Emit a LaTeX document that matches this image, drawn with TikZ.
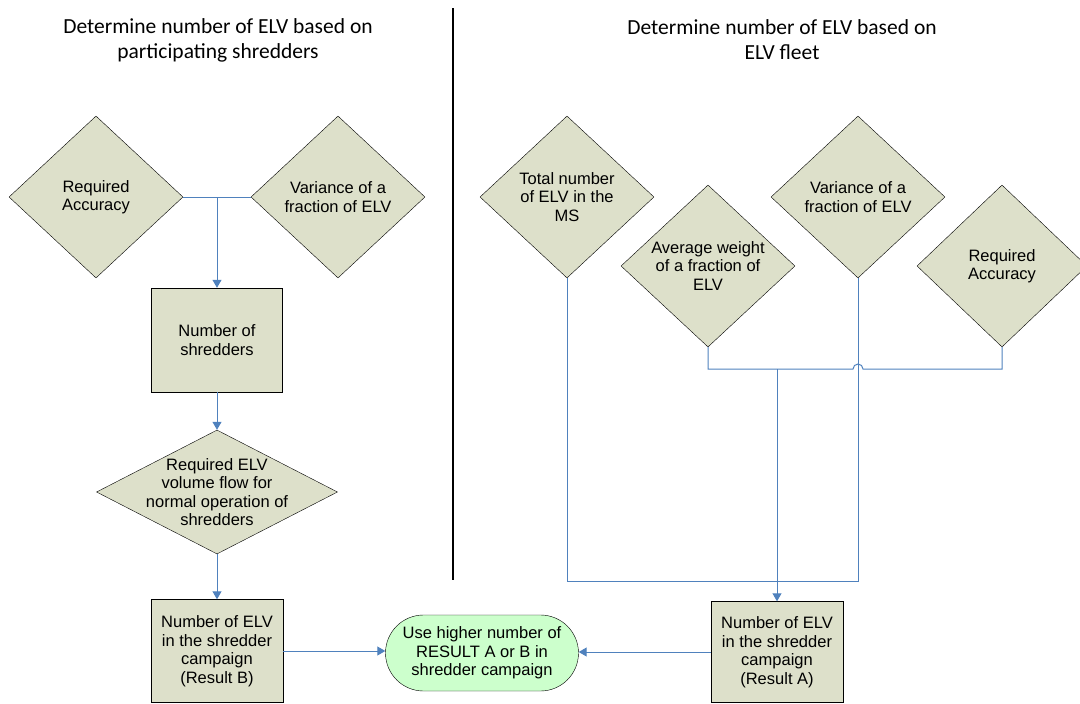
\documentclass[tikz,border=0pt]{standalone}
\usepackage{fontspec}
\setmainfont{Liberation Sans}
\newfontfamily\titlefont{Carlito}
\usepackage{tikz}
\usetikzlibrary{shapes.geometric,arrows.meta}
\definecolor{elvfill}{HTML}{DDE0CA}
\definecolor{elvline}{HTML}{4F81BD}
\definecolor{elvgreen}{HTML}{CCFFCC}

\begin{document}
\begin{tikzpicture}[x=1pt,y=-1pt,
  dia/.style={diamond,draw=black,fill=elvfill,inner sep=0pt,minimum width=174pt,minimum height=162pt},
  box/.style={rectangle,draw=black,fill=elvfill,minimum width=132pt,minimum height=103pt},
  txt/.style={align=center,inner sep=0pt,font=\fontsize{16.5}{18.5}\selectfont},
  title/.style={align=center,font=\titlefont\fontsize{21.5}{25}\selectfont},
  link/.style={draw=elvline,line width=1pt},
  arr/.style={link,-{Triangle[width=9pt,length=8pt]}}]
\useasboundingbox (0,0) rectangle (1080,704);
% headings and divider
\node[title] (headL) at (218,40) {Determine number of ELV based on\\participating shredders};
\node[title] (headR) at (782,40) {Determine number of ELV based on\\ELV fleet};
\draw[line width=1.5pt] (453,8) -- (453,580);
% result B: participating shredders
\node[dia] (accL) at (96,197) {};
\node[txt] (accLt) at (accL) {Required\\Accuracy};
\node[dia] (varL) at (338,197) {};
\node[txt] (varLt) at (varL) {Variance of a\\fraction of ELV};
\node[box,minimum width=131pt,minimum height=104pt] (nshred) at (217,340) {};
\node[txt] (nshredt) at (nshred) {Number of\\shredders};
\node[dia,minimum width=241pt,minimum height=124pt] (flow) at (217,492) {};
\node[txt] (flowt) at (flow) {Required ELV\\volume flow for\\normal operation of\\shredders};
\node[box] (resB) at (217,651) {};
\node[txt] (resBt) at (resB) {Number of ELV\\in the shredder\\campaign\\(Result B)};
% result A: ELV fleet
\node[dia] (tot) at (567,197) {};
\node[txt] (tott) at (tot) {Total number\\of ELV in the\\MS};
\node[dia] (avg) at (708,266) {};
\node[txt] (avgt) at (avg) {Average weight\\of a fraction of\\ELV};
\node[dia] (varR) at (858,197) {};
\node[txt] (varRt) at (varR) {Variance of a\\fraction of ELV};
\node[dia,minimum width=170pt] (accR) at (1002,266) {};
\node[txt] (accRt) at (accR) {Required\\Accuracy};
\node[box,minimum height=101pt] (resA) at (777,652) {};
\node[txt] (resAt) at (resA) {Number of ELV\\in the shredder\\campaign\\(Result A)};
% final decision
\node[rectangle,rounded corners=38pt,draw=black,fill=elvgreen,minimum width=193pt,minimum height=76pt] (result) at (482,653) {};
\node[txt] (resultt) at (result) {Use higher number of\\RESULT A or B in\\shredder campaign};
% connectors
\draw[link] (accL.east) -- (varL.west);
\draw[arr] (accL.east -| nshred) -- (nshred.north);
\draw[arr] (nshred.south) -- (flow.north);
\draw[arr] (flow.south) -- (resB.north);
\draw[arr] (resB.east) -- (resB.east -| result.west);
\draw[arr] (resA.west) -- (resA.west -| result.east);
\coordinate (busA) at (0,369);
\coordinate (busB) at (0,581);
\coordinate (hop) at (varR |- busA);
\draw[link] (tot.south) |- (busB -| varR) -- (varR.south);
\draw[link] (avg.south) |- ([xshift=-5pt]hop) arc[start angle=180,end angle=0,radius=5pt] -| (accR.south);
\draw[arr] (resA |- busA) -- (resA.north);
\end{tikzpicture}
\end{document}
